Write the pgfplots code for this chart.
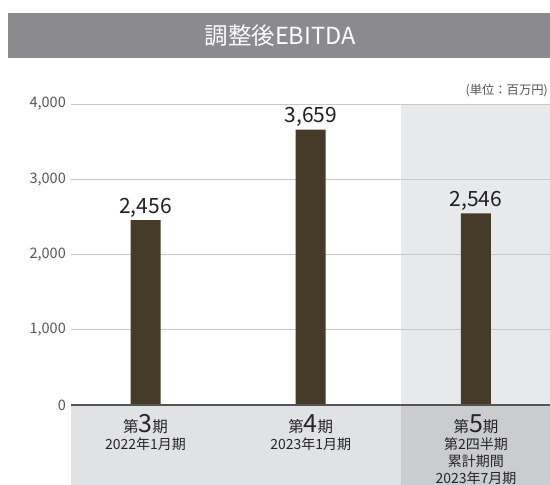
\documentclass[border=0pt]{standalone}
\usepackage{pgfplots}
\pgfplotsset{compat=1.18}
\usepackage{fontspec}
\setmainfont{Noto Sans CJK JP}
\definecolor{titlegray}{HTML}{8B8B8F}
\definecolor{bandA}{HTML}{E1E2E4}
\definecolor{bandB}{HTML}{CBCCCF}
\definecolor{colbg}{HTML}{E8E9EB}
\definecolor{barc}{HTML}{463B29}
\definecolor{gridc}{HTML}{C8C8C8}
\definecolor{tickc}{HTML}{555555}
\begin{document}
\begin{tikzpicture}
\useasboundingbox (0,0) rectangle (550pt,485pt);
% title band
\fill[titlegray] (8pt,427pt) rectangle (550pt,472pt);
\node[text=white, font={\fontsize{23.5}{26}\selectfont}] at (280pt,449pt) {調整後EBITDA};
% backgrounds
\fill[bandA] (71pt,0pt) rectangle (401pt,80pt);
\fill[bandB] (401pt,0pt) rectangle (550pt,80pt);
\fill[colbg] (401pt,80pt) rectangle (550pt,381pt);
% unit
\node[anchor=base east, text=tickc, inner sep=0pt, font={\fontsize{12.3}{14}\selectfont}] at (548pt,390pt) {(単位：百万円)};
\begin{axis}[
  at={(71pt,80pt)}, anchor=south west,
  scale only axis, width=479pt, height=301pt,
  xmin=-0.451, xmax=2.448, ymin=0, ymax=4000,
  ybar, bar width=30pt,
  axis line style={draw=none},
  tick style={draw=none},
  ytick={0,1000,2000,3000,4000},
  ymajorgrids, grid style={gridc, line width=1pt},
  xtick={0,1,2},
  xticklabels={{第{\fontsize{25}{25}\selectfont 3}期\\{\fontsize{14}{17}\selectfont 2022年1月期}},
               {第{\fontsize{25}{25}\selectfont 4}期\\{\fontsize{14}{17}\selectfont 2023年1月期}},
               {第{\fontsize{25}{25}\selectfont 5}期\\{\fontsize{14}{17}\selectfont 第2四半期}\\{\fontsize{14}{17}\selectfont 累計期間}\\{\fontsize{14}{17}\selectfont 2023年7月期}}},
  xticklabel style={anchor=north, align=center, inner sep=0pt, yshift=-5pt, text=black!85,
     font={\fontsize{15.5}{17}\selectfont}},
  yticklabel style={anchor=east, inner sep=0pt, xshift=-5pt, text=tickc,
     font={\fontsize{14.5}{16}\selectfont}},
  /pgf/number format/assume math mode=true,
  /pgf/number format/1000 sep={,},
  nodes near coords,
  nodes near coords style={anchor=south, inner sep=0pt, yshift=2.5pt, text=black!88,
     font={\fontsize{21}{24}\selectfont}, /pgf/number format/assume math mode=true,
     /pgf/number format/1000 sep={,}},
  clip=false,
]
\addplot[fill=barc, draw=none] coordinates {(0,2456) (1,3659) (2,2546)};
\draw[tickc, line width=1.2pt] (axis cs:-0.451,0) -- (axis cs:2.448,0);
\end{axis}
\end{tikzpicture}
\end{document}
